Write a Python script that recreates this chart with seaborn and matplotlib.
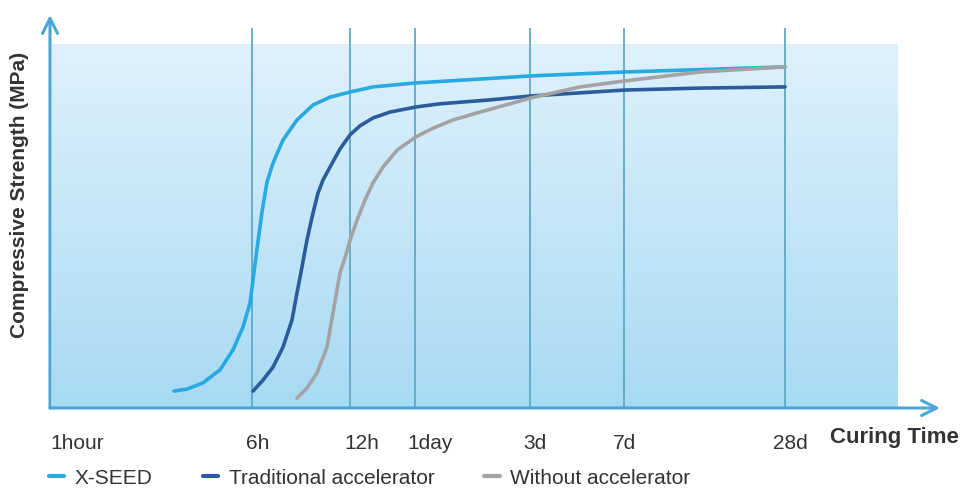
import numpy as np
import pandas as pd
import matplotlib
matplotlib.use("Agg")
import matplotlib.pyplot as plt
import seaborn as sns
from matplotlib.lines import Line2D

# ---------------- data ----------------
series_names = ["X-SEED", "Traditional accelerator", "Without accelerator"]

xseed_x = [1.24, 1.37, 1.53, 1.70, 1.83, 1.93, 2.00, 2.03, 2.07, 2.12, 2.17, 2.23, 2.33, 2.47,
           2.63, 2.80, 3.00, 3.23, 3.65, 4.30, 4.81, 5.74, 6.50, 7.35]
xseed_y = [4.3, 4.8, 6.4, 9.7, 14.8, 20.6, 26.7, 32.6, 40.5, 49.9, 57.5, 62.3, 68.2, 73.3,
           77.1, 79.1, 80.4, 81.7, 82.7, 83.7, 84.5, 85.5, 86.1, 86.8]

trad_x = [2.03, 2.13, 2.23, 2.33, 2.42, 2.47, 2.52, 2.57, 2.63, 2.68, 2.73, 2.80, 2.90, 3.00,
          3.10, 3.23, 3.40, 3.66, 3.90, 4.40, 4.81, 5.74, 6.50, 7.35]
trad_y = [4.3, 7.1, 10.4, 15.5, 22.4, 29.3, 35.9, 42.8, 49.6, 54.7, 58.0, 61.3, 65.9, 69.5,
          71.8, 73.8, 75.3, 76.6, 77.4, 78.4, 79.4, 80.9, 81.4, 81.7]

without_x = [2.47, 2.57, 2.67, 2.77, 2.83, 2.90, 2.95, 3.00, 3.07, 3.15, 3.23, 3.33, 3.47, 3.66,
             3.83, 4.03, 4.30, 4.67, 4.81, 5.30, 5.74, 6.50, 7.35]
without_y = [2.5, 5.1, 8.9, 15.5, 24.2, 34.4, 38.2, 42.7, 47.8, 52.9, 57.3, 61.3, 65.6, 69.0,
             71.2, 73.3, 75.3, 77.9, 78.9, 81.7, 83.2, 85.5, 86.8]

tick_labels = ["1hour", "6h", "12h", "1day", "3d", "7d", "28d"]

# ---------------- layout / style ----------------
W, H = 968, 492
ax_left_px, ax_right_px, ax_bottom_px, ax_top_px = 50, 940, 408, 15
tick_pos = [0.27, 2.08, 3.12, 3.80, 4.85, 5.75, 7.40]
grid_pos = [2.02, 3.00, 3.65, 4.80, 5.74, 7.35]
colors = {"X-SEED": "#27a9e1", "Traditional accelerator": "#2a5c9c", "Without accelerator": "#a3a3a5"}
axis_color = "#4ba5d4"
grid_color = "#5fa9c6"

sns.set_theme(style="white")
plt.rcParams["font.family"] = ["Liberation Sans Narrow", "Liberation Sans", "DejaVu Sans"]

df = pd.concat([
    pd.DataFrame({"time": xseed_x, "strength": xseed_y, "series": series_names[0]}),
    pd.DataFrame({"time": trad_x, "strength": trad_y, "series": series_names[1]}),
    pd.DataFrame({"time": without_x, "strength": without_y, "series": series_names[2]}),
], ignore_index=True)

fig = plt.figure(figsize=(W / 100, H / 100), dpi=100)
ax = fig.add_axes([ax_left_px / W, (H - ax_bottom_px) / H,
                   (ax_right_px - ax_left_px) / W, (ax_bottom_px - ax_top_px) / H])
ax.set_xlim(0, 8.9)
ax.set_ylim(0, 100)
ax.patch.set_alpha(0)

# gradient background panel
grad = np.linspace(0, 1, 256).reshape(-1, 1)
top_c = np.array([0.875, 0.945, 0.985])
bot_c = np.array([0.655, 0.855, 0.955])
img = top_c[None, None, :] * (1 - grad[:, :, None]) + bot_c[None, None, :] * grad[:, :, None]
ax.imshow(img, extent=[0.02, 8.48, 0, 92.4], aspect="auto", origin="upper", zorder=0)

# vertical grid lines
ax.vlines(grid_pos, 0, 96.7, color=grid_color, lw=1.3, zorder=1)

sns.lineplot(data=df, x="time", y="strength", hue="series", palette=colors,
             hue_order=series_names, sort=False, estimator=None, lw=2.6,
             legend=False, ax=ax, zorder=3)
for ln in ax.get_lines():
    ln.set_solid_joinstyle("round")
    ln.set_solid_capstyle("round")

for s in ax.spines.values():
    s.set_visible(False)

# axes arrows
ax.annotate("", xy=(0, 1.0), xytext=(0, 0), xycoords="axes fraction",
            arrowprops=dict(arrowstyle="->,head_length=0.9,head_width=0.45", color=axis_color, lw=2.2,
                            shrinkA=0, shrinkB=0), annotation_clip=False)
ax.annotate("", xy=(1.0, 0), xytext=(0, 0), xycoords="axes fraction",
            arrowprops=dict(arrowstyle="->,head_length=0.9,head_width=0.45", color=axis_color, lw=2.2,
                            shrinkA=0, shrinkB=0), annotation_clip=False)

ax.set_xticks(tick_pos)
ax.set_xticklabels(tick_labels, fontsize=15, color="#333333")
ax.tick_params(axis="x", length=0, pad=19)
ax.set_yticks([])
ax.set_xlabel("")
ax.set_ylabel("")

fig.text(830 / W, 1 - 438 / H, "Curing Time", fontsize=16, fontweight="bold", color="#333333",
         ha="left", va="center")
fig.text(20 / W, 1 - 195 / H, "Compressive Strength (MPa)", fontsize=15, fontweight="bold",
         color="#333333", rotation=90, ha="center", va="center")

handles = [Line2D([0], [0], color=colors[n], lw=3) for n in series_names]
fig.legend(handles, series_names, loc="center left", bbox_to_anchor=(30 / W, 1 - 478 / H),
           ncol=3, frameon=False, fontsize=15, handlelength=0.75, handletextpad=0.5,
           columnspacing=2.4, labelcolor="#333333")

fig.savefig("out.png", dpi=100)
